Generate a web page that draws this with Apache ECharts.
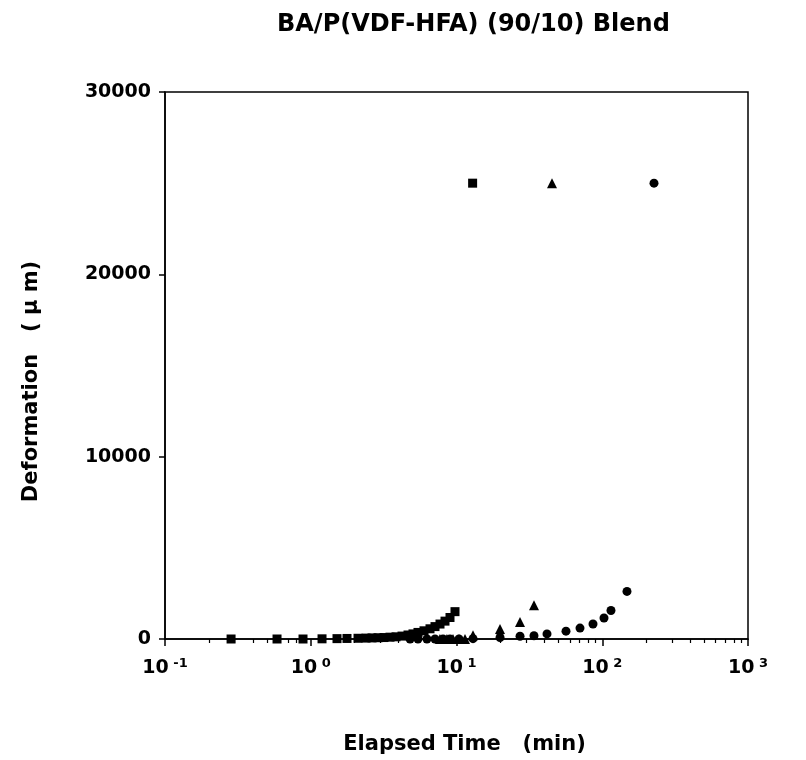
<!DOCTYPE html>
<html>
<head>
<meta charset="utf-8">
<script src="https://cdn.jsdelivr.net/npm/echarts@6/dist/echarts.min.js"></script>
<style>
  html, body { margin: 0; padding: 0; background: #fff; }
  #chart { width: 806px; height: 760px; }
</style>
</head>
<body>
<div id="chart"></div>
<script>
// elapsed time (min) and deformation (um)
var sqTime = [0.284, 0.587, 0.885, 1.195, 1.514, 1.773, 2.11, 2.394, 2.632, 2.893, 3.181, 3.498,
  3.845, 4.228, 4.648, 5.029, 5.442, 5.984, 6.579, 7.12, 7.705, 8.339, 9.024, 9.766, 12.9];
var sqDef = [0, 0, 0, 10, 20, 30, 40, 50, 60, 70, 80, 100,
  120, 160, 220, 280, 360, 450, 560, 680, 820, 980, 1180, 1500, 25000];

var triTime = [7.7, 8.6, 9.46, 10.4, 11.44, 12.98, 19.89, 27.28, 34.01, 45.2];
var triDef = [0, 0, 0, 0, 0, 200, 550, 930, 1850, 25000];

var cirTime = [4.8, 5.44, 6.27, 7.12, 8.08, 9.02, 10.4, 12.98, 19.89, 27.28, 34.01, 41.77,
  56.4, 70.36, 86.4, 102.8, 114.8, 147.8, 226.5];
var cirDef = [0, 0, 0, 0, 0, 0, 0, 20, 80, 150, 180, 280,
  430, 600, 820, 1150, 1560, 2610, 25000];

var yTicks = [0, 10000, 20000, 30000];
var minorTicks = [];
[0.1, 1, 10, 100].forEach(function (d) {
  for (var k = 2; k <= 9; k++) minorTicks.push(+(d * k).toPrecision(3));
});

function pairs(xs, ys) {
  return xs.map(function (x, i) { return [x, ys[i]]; });
}

var font = 'DejaVu Sans';
var chart = echarts.init(document.getElementById('chart'));
chart.setOption({
  animation: false,
  backgroundColor: '#fff',
  title: {
    text: 'BA/P(VDF-HFA) (90/10) Blend',
    left: 272,
    top: 8,
    textStyle: { fontFamily: font, fontSize: 24, fontWeight: 'bold', color: '#000' }
  },
  grid: {
    left: 165, right: 58, top: 92, bottom: 117,
    show: true, borderColor: '#000', borderWidth: 1.5
  },
  xAxis: [{
    type: 'log',
    min: 0.1, max: 1000,
    name: 'Elapsed Time   (min)',
    nameLocation: 'middle',
    nameGap: 95,
    nameTextStyle: { fontFamily: font, fontSize: 21, fontWeight: 'bold', color: '#000', padding: [0, 0, 0, 16] },
    axisLine: { lineStyle: { color: '#000', width: 1.5 } },
    axisTick: { length: 7, lineStyle: { color: '#000', width: 1.5 } },
    splitLine: { show: false },
    axisLabel: {
      margin: 18,
      formatter: function (v) {
        var e = Math.round(Math.log10(v));
        return '{b|10}{s| ' + e + '}';
      },
      rich: {
        b: { fontFamily: font, fontSize: 19, fontWeight: 'bold', color: '#000' },
        s: { fontFamily: font, fontSize: 13, fontWeight: 'bold', color: '#000', padding: [0, 0, 10, 0] }
      }
    }
  }, {
    type: 'log',
    min: 0.1, max: 1000,
    position: 'bottom',
    axisLine: { show: false },
    axisLabel: { show: false },
    splitLine: { show: false },
    axisTick: { length: 4, customValues: minorTicks, lineStyle: { color: '#000', width: 1.2 } }
  }],
  yAxis: {
    type: 'value',
    min: 0, max: 30000, interval: 10000,
    name: 'Deformation   ( \u03bc m)',
    nameLocation: 'middle',
    nameGap: 123,
    nameTextStyle: { fontFamily: font, fontSize: 21, fontWeight: 'bold', color: '#000', padding: [0, 32, 0, 0] },
    axisLine: { show: true, lineStyle: { color: '#000', width: 1.5 } },
    axisTick: { show: true, length: 6, lineStyle: { color: '#000', width: 1.5 } },
    splitLine: { show: false },
    axisLabel: {
      margin: 14,
      fontFamily: font, fontSize: 19, fontWeight: 'bold', color: '#000',
      customValues: yTicks,
      formatter: function (v) { return String(v); }
    }
  },
  series: [{
    type: 'scatter',
    symbol: 'circle',
    symbolSize: 9,
    itemStyle: { color: '#000', opacity: 1 },
    data: pairs(cirTime, cirDef)
  }, {
    type: 'scatter',
    symbol: 'triangle',
    symbolSize: 10,
    itemStyle: { color: '#000', opacity: 1 },
    data: pairs(triTime, triDef)
  }, {
    type: 'scatter',
    symbol: 'rect',
    symbolSize: 9,
    itemStyle: { color: '#000', opacity: 1 },
    data: pairs(sqTime, sqDef)
  }]
});
</script>
</body>
</html>
